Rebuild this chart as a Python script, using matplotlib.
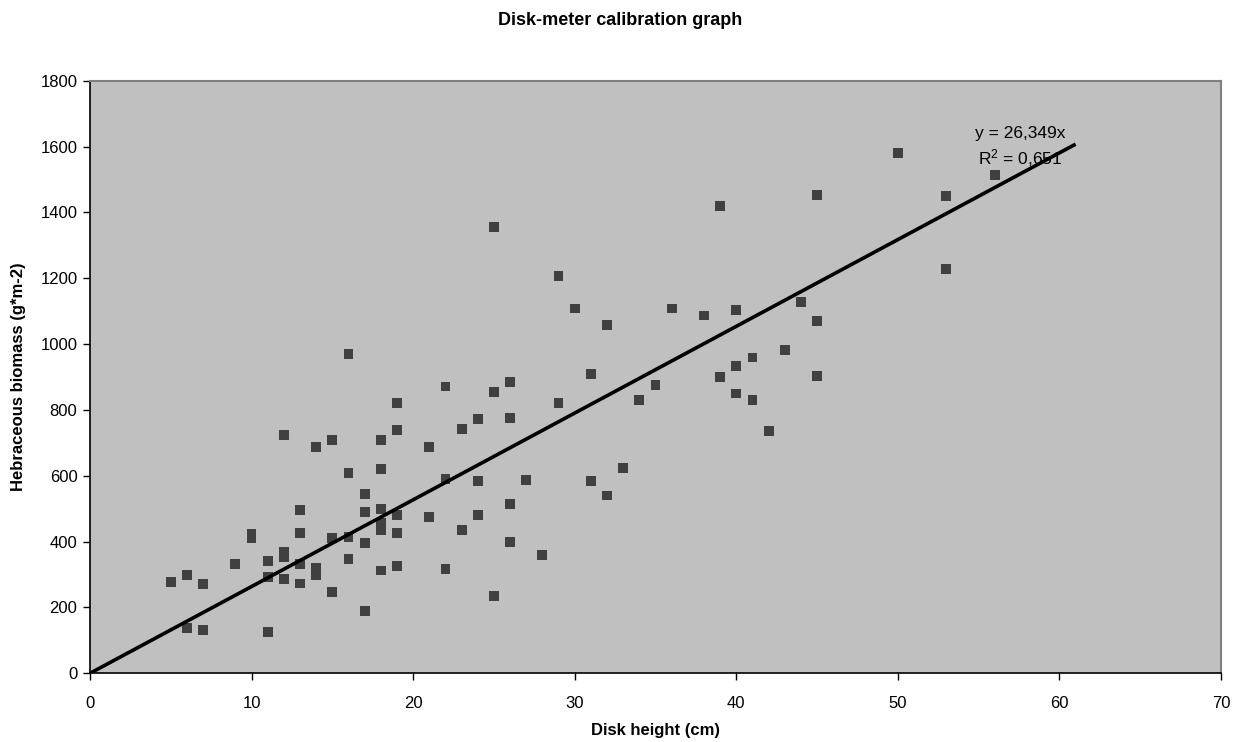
import matplotlib.pyplot as plt
import numpy as np

plt.rcParams['font.family'] = ['Liberation Sans', 'DejaVu Sans']

# disk height (cm) and hebraceous biomass (g*m-2)
disk_height = [5, 6, 6, 7, 7, 9, 10, 10, 11, 11, 11,
               12, 12, 12, 12, 13, 13, 13, 13, 14, 14, 14,
               15, 15, 15, 16, 16, 16, 16, 17, 17, 17, 17,
               18, 18, 18, 18, 18, 18, 19, 19, 19, 19, 19,
               21, 21, 22, 22, 22, 23, 23, 24, 24, 24,
               25, 25, 25, 26, 26, 26, 26, 27, 28, 29, 29,
               30, 31, 31, 32, 32, 33, 34, 35, 36, 38,
               39, 39, 40, 40, 40, 41, 41, 42, 43, 44,
               45, 45, 45, 50, 53, 53, 56]
biomass = [277, 298, 138, 272, 131, 332, 424, 411, 342, 293, 125,
           723, 369, 354, 287, 496, 425, 332, 273, 687, 319, 299,
           708, 412, 248, 969, 609, 415, 347, 544, 490, 396, 189,
           709, 620, 500, 457, 435, 312, 821, 738, 481, 425, 327,
           688, 476, 871, 589, 318, 742, 436, 772, 584, 481,
           1356, 855, 236, 886, 776, 514, 400, 587, 360, 1207, 821,
           1108, 910, 583, 1058, 540, 623, 830, 875, 1108, 1087,
           1420, 900, 1103, 934, 850, 959, 830, 737, 983, 1127,
           1454, 1069, 904, 1581, 1449, 1227, 1514]

slope = 26.349
r2 = 0.651
trend_x = [0, 61]

fig = plt.figure(figsize=(12.41, 7.42), dpi=100)
ax = fig.add_axes([0.0725, 0.0926, 0.9114, 0.7986])
ax.set_facecolor('#c0c0c0')

ax.scatter(disk_height, biomass, marker='s', s=50, color='#404040',
           edgecolors='none', zorder=3)
tx = np.array(trend_x, dtype=float)
ax.plot(tx, slope * tx, color='black', lw=2.6, zorder=4, solid_capstyle='butt')

ax.set_xlim(0, 70)
ax.set_ylim(0, 1800)
ax.set_xticks(range(0, 71, 10))
ax.set_yticks(range(0, 1801, 200))
ax.tick_params(direction='out', length=5, width=1, labelsize=12)
ax.tick_params(axis='x', pad=11)
ax.tick_params(axis='y', pad=4)

for side in ['top', 'right']:
    ax.spines[side].set_color('#808080')
    ax.spines[side].set_linewidth(1.5)
for side in ['left', 'bottom']:
    ax.spines[side].set_color('black')
    ax.spines[side].set_linewidth(1.2)

ax.set_xlabel('Disk height (cm)', fontsize=12, fontweight='bold', labelpad=9)
ax.set_ylabel('Hebraceous biomass (g*m-2)', fontsize=12, fontweight='bold',
              labelpad=10)
fig.text(0.5, 0.972, 'Disk-meter calibration graph', ha='center', va='center',
         fontsize=13, fontweight='bold')

eq = 'y = {}x'.format(str(slope).replace('.', ','))
rr = '$\\mathregular{R^2}$ = ' + str(r2).replace('.', ',')
ax.text(57.6, 1640, eq, ha='center', va='center', fontsize=12.5, zorder=5)
ax.text(57.6, 1565, rr, ha='center', va='center', fontsize=12.5, zorder=5)

fig.savefig('out.png', dpi=100)
